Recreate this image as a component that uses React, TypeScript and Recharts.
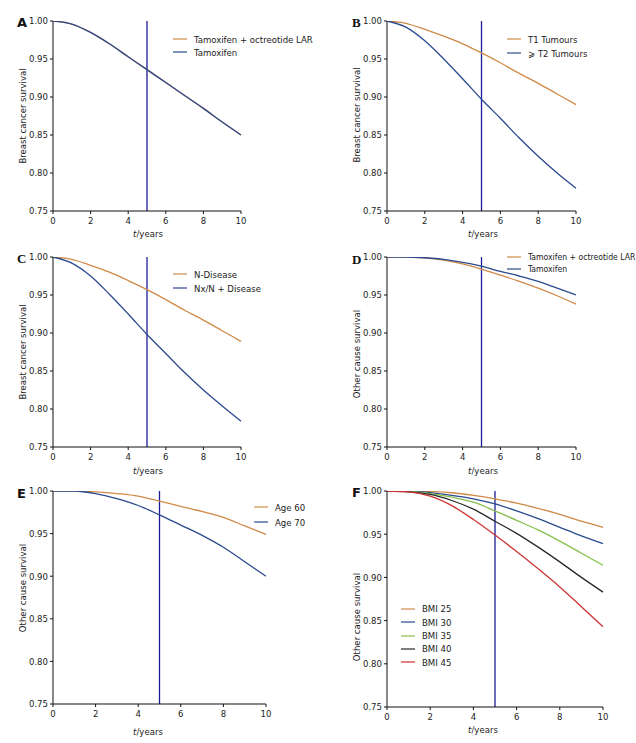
import React from 'react';
import { LineChart, Line, XAxis, YAxis, ReferenceLine, Legend } from 'recharts';

// time points (years) and axis ticks
const years = [0, 1, 2, 3, 4, 5, 6, 7, 8, 9, 10];
const xTicks = [0, 2, 4, 6, 8, 10];
const yTicks = [0.75, 0.8, 0.85, 0.9, 0.95, 1.0];

// A: breast cancer survival by treatment
const aTamOct = [1.0, 0.996, 0.985, 0.97, 0.953, 0.936, 0.919, 0.902, 0.885, 0.867, 0.85];
const aTam = [1.0, 0.996, 0.985, 0.97, 0.953, 0.936, 0.919, 0.902, 0.885, 0.867, 0.85];

// B: breast cancer survival by tumour size
const bT1 = [1.0, 0.997, 0.989, 0.98, 0.97, 0.958, 0.945, 0.931, 0.918, 0.904, 0.89];
const bT2 = [1.0, 0.992, 0.974, 0.95, 0.924, 0.897, 0.872, 0.846, 0.822, 0.8, 0.78];

// C: breast cancer survival by nodal status
const cNeg = [1.0, 0.997, 0.989, 0.98, 0.969, 0.957, 0.944, 0.93, 0.917, 0.903, 0.889];
const cPos = [1.0, 0.992, 0.975, 0.951, 0.925, 0.898, 0.873, 0.848, 0.825, 0.804, 0.784];

// D: other cause survival by treatment
const dTamOct = [1.0, 1.0, 0.999, 0.996, 0.991, 0.984, 0.976, 0.968, 0.959, 0.949, 0.938];
const dTam = [1.0, 1.0, 0.999, 0.997, 0.993, 0.988, 0.981, 0.975, 0.968, 0.959, 0.95];

// E: other cause survival by age
const eAge60 = [1.0, 1.0, 0.999, 0.997, 0.994, 0.988, 0.982, 0.976, 0.969, 0.959, 0.949];
const eAge70 = [1.0, 1.0, 0.997, 0.991, 0.983, 0.972, 0.96, 0.948, 0.934, 0.917, 0.9];

// F: other cause survival by BMI
const fBmi25 = [1.0, 1.0, 0.9995, 0.998, 0.995, 0.991, 0.986, 0.98, 0.973, 0.965, 0.958];
const fBmi30 = [1.0, 1.0, 0.998, 0.995, 0.991, 0.985, 0.977, 0.968, 0.958, 0.948, 0.939];
const fBmi35 = [1.0, 0.9995, 0.997, 0.993, 0.987, 0.977, 0.966, 0.955, 0.942, 0.928, 0.914];
const fBmi40 = [1.0, 0.999, 0.996, 0.989, 0.979, 0.965, 0.951, 0.935, 0.918, 0.9, 0.883];
const fBmi45 = [1.0, 0.999, 0.994, 0.983, 0.967, 0.949, 0.93, 0.91, 0.889, 0.866, 0.843];

const ORANGE = '#d08a48';
const BLUE = '#2b4a8e';
const GREEN = '#86c04c';
const BLACK = '#2a2a2a';
const RED = '#cc3333';
const NAVY = '#1c1c98';

const FONT = '"DejaVu Sans Condensed", "DejaVu Sans", sans-serif';
const SANS_BOLD = '"DejaVu Sans", sans-serif';
const SERIF_BOLD = '"Liberation Serif", "Times New Roman", serif';

type Series = { name: string; color: string; values: number[] };

type PanelProps = {
  letter: string;
  letterFont: string;
  yTitle: string;
  series: Series[];
  box: { left: number; top: number; w: number; h: number };
  plot: { x0: number; x1: number; y0: number; y1: number };
  refX: number;
  letterPos: { x: number; y: number };
  yTitlePos: { x: number; y: number };
  xTitlePos: { x: number; y: number };
  legendPos: { x: number; y: number; rowH: number; fontSize?: number };
};

const Y_AXIS_W = 40;
const X_AXIS_H = 20;

const Panel = (p: PanelProps) => {
  const data = years.map((t, i) => {
    const row: Record<string, number> = { t };
    p.series.forEach((s, k) => {
      row['s' + k] = s.values[i];
    });
    return row;
  });

  const margin = {
    left: p.plot.x0 - p.box.left - Y_AXIS_W,
    right: p.box.left + p.box.w - p.plot.x1,
    top: p.plot.y0 - p.box.top,
    bottom: p.box.top + p.box.h - p.plot.y1 - X_AXIS_H,
  };

  const renderLegend = () => (
    <div style={{ fontFamily: FONT, fontSize: p.legendPos.fontSize ?? 9.5, color: '#222' }}>
      {p.series.map((s) => (
        <div key={s.name} style={{ height: p.legendPos.rowH, display: 'flex', alignItems: 'center', whiteSpace: 'nowrap' }}>
          <svg width={14} height={4} style={{ marginRight: 7, display: 'block' }}>
            <line x1={0} y1={2} x2={14} y2={2} stroke={s.color} strokeWidth={1.2} />
          </svg>
          <span>{s.name}</span>
        </div>
      ))}
    </div>
  );

  return (
    <div style={{ position: 'absolute', left: p.box.left, top: p.box.top, width: p.box.w, height: p.box.h }}>
      <LineChart width={p.box.w} height={p.box.h} data={data} margin={margin}>
        <XAxis
          dataKey="t"
          type="number"
          domain={[0, 10]}
          ticks={xTicks}
          height={X_AXIS_H}
          stroke="#111"
          tickSize={3}
          tickMargin={3}
          tick={{ fontSize: 9.5, fill: '#222', fontFamily: FONT }}
        />
        <YAxis
          type="number"
          domain={[0.75, 1]}
          ticks={yTicks}
          width={Y_AXIS_W}
          allowDataOverflow
          stroke="#111"
          tickSize={3}
          tickMargin={2}
          tickFormatter={(v: number) => v.toFixed(2)}
          tick={{ fontSize: 9.5, fill: '#222', fontFamily: FONT }}
        />
        <ReferenceLine x={p.refX} stroke={NAVY} strokeWidth={1.3} />
        {p.series.map((s, k) => (
          <Line
            key={s.name}
            name={s.name}
            dataKey={'s' + k}
            type="monotone"
            stroke={s.color}
            strokeWidth={1.3}
            dot={false}
            isAnimationActive={false}
          />
        ))}
        <Legend
          layout="vertical"
          align="center"
          verticalAlign="middle"
          content={renderLegend}
          wrapperStyle={{ left: p.legendPos.x - p.box.left, top: p.legendPos.y - p.box.top, width: 'auto' }}
        />
      </LineChart>
      <div
        style={{
          position: 'absolute',
          left: p.letterPos.x - p.box.left,
          top: p.letterPos.y - p.box.top - 8,
          fontFamily: p.letterFont,
          fontWeight: 'bold',
          fontSize: 13,
          lineHeight: '16px',
          color: '#111',
        }}
      >
        {p.letter}
      </div>
      <div
        style={{
          position: 'absolute',
          left: p.yTitlePos.x - p.box.left,
          top: p.yTitlePos.y - p.box.top,
          transform: 'translate(-50%, -50%) rotate(-90deg)',
          fontFamily: FONT,
          fontSize: 9.5,
          whiteSpace: 'nowrap',
          color: '#222',
        }}
      >
        {p.yTitle}
      </div>
      <div
        style={{
          position: 'absolute',
          left: p.xTitlePos.x - p.box.left,
          top: p.xTitlePos.y - p.box.top,
          transform: 'translate(-50%, -50%)',
          fontFamily: FONT,
          fontSize: 9.5,
          whiteSpace: 'nowrap',
          color: '#222',
        }}
      >
        <i>t</i>/years
      </div>
    </div>
  );
};

export default function App() {
  return (
    <div style={{ position: 'absolute', left: 0, top: 0, width: 636, height: 743, background: '#fff', overflow: 'hidden' }}>
      <Panel
        letter="A"
        letterFont={SANS_BOLD}
        yTitle="Breast cancer survival"
        series={[
          { name: 'Tamoxifen + octreotide LAR', color: ORANGE, values: aTamOct },
          { name: 'Tamoxifen', color: BLUE, values: aTam },
        ]}
        box={{ left: 0, top: 0, w: 318, h: 240 }}
        plot={{ x0: 53, x1: 241, y0: 21, y1: 211 }}
        refX={5}
        letterPos={{ x: 17, y: 23 }}
        yTitlePos={{ x: 22, y: 116 }}
        xTitlePos={{ x: 148, y: 233 }}
        legendPos={{ x: 173, y: 32.5, rowH: 13 }}
      />
      <Panel
        letter="B"
        letterFont={SERIF_BOLD}
        yTitle="Breast cancer survival"
        series={[
          { name: 'T1 Tumours', color: ORANGE, values: bT1 },
          { name: '\u2A7E  T2 Tumours', color: BLUE, values: bT2 },
        ]}
        box={{ left: 318, top: 0, w: 318, h: 240 }}
        plot={{ x0: 387, x1: 576, y0: 21, y1: 211 }}
        refX={5}
        letterPos={{ x: 352, y: 23 }}
        yTitlePos={{ x: 356, y: 115 }}
        xTitlePos={{ x: 483, y: 233 }}
        legendPos={{ x: 507, y: 32, rowH: 14 }}
      />
      <Panel
        letter="C"
        letterFont={SERIF_BOLD}
        yTitle="Breast cancer survival"
        series={[
          { name: 'N-Disease', color: ORANGE, values: cNeg },
          { name: 'Nx/N + Disease', color: BLUE, values: cPos },
        ]}
        box={{ left: 0, top: 240, w: 318, h: 240 }}
        plot={{ x0: 53, x1: 241, y0: 257, y1: 447 }}
        refX={5}
        letterPos={{ x: 17, y: 259 }}
        yTitlePos={{ x: 22, y: 352 }}
        xTitlePos={{ x: 148, y: 470 }}
        legendPos={{ x: 173, y: 267, rowH: 14 }}
      />
      <Panel
        letter="D"
        letterFont={SERIF_BOLD}
        yTitle="Other cause survival"
        series={[
          { name: 'Tamoxifen + octreotide LAR', color: ORANGE, values: dTamOct },
          { name: 'Tamoxifen', color: BLUE, values: dTam },
        ]}
        box={{ left: 318, top: 240, w: 318, h: 240 }}
        plot={{ x0: 387, x1: 576, y0: 257, y1: 447 }}
        refX={5}
        letterPos={{ x: 352, y: 260 }}
        yTitlePos={{ x: 356, y: 354 }}
        xTitlePos={{ x: 483, y: 470 }}
        legendPos={{ x: 507, y: 251, rowH: 12, fontSize: 8.6 }}
      />
      <Panel
        letter="E"
        letterFont={SANS_BOLD}
        yTitle="Other cause survival"
        series={[
          { name: 'Age 60', color: ORANGE, values: eAge60 },
          { name: 'Age 70', color: BLUE, values: eAge70 },
        ]}
        box={{ left: 0, top: 480, w: 318, h: 263 }}
        plot={{ x0: 53, x1: 266, y0: 491, y1: 704 }}
        refX={5}
        letterPos={{ x: 17, y: 494 }}
        yTitlePos={{ x: 22, y: 588 }}
        xTitlePos={{ x: 148, y: 731 }}
        legendPos={{ x: 254, y: 499.5, rowH: 15 }}
      />
      <Panel
        letter="F"
        letterFont={SANS_BOLD}
        yTitle="Other cause survival"
        series={[
          { name: 'BMI 25', color: ORANGE, values: fBmi25 },
          { name: 'BMI 30', color: BLUE, values: fBmi30 },
          { name: 'BMI 35', color: GREEN, values: fBmi35 },
          { name: 'BMI 40', color: BLACK, values: fBmi40 },
          { name: 'BMI 45', color: RED, values: fBmi45 },
        ]}
        box={{ left: 318, top: 480, w: 318, h: 263 }}
        plot={{ x0: 387, x1: 603, y0: 491, y1: 707 }}
        refX={5}
        letterPos={{ x: 352, y: 493 }}
        yTitlePos={{ x: 356, y: 617 }}
        xTitlePos={{ x: 483, y: 729 }}
        legendPos={{ x: 401, y: 602.3, rowH: 13.3 }}
      />
    </div>
  );
}
